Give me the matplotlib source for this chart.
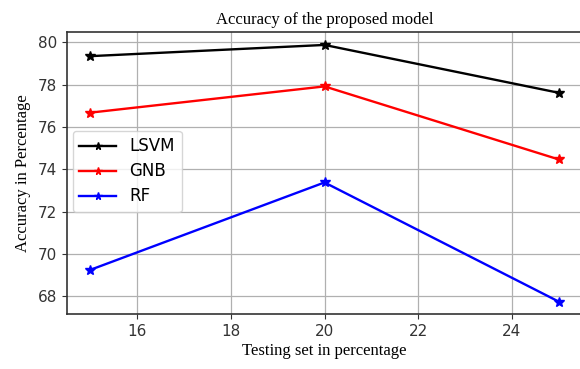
import matplotlib
matplotlib.use("Agg")
import matplotlib.pyplot as plt

# data
testSize = [15, 20, 25]
lsvm = [79.35, 79.88, 77.62]
gnb = [76.68, 77.92, 74.47]
rf = [69.25, 73.38, 67.75]

series = [("LSVM", lsvm, "black"), ("GNB", gnb, "red"), ("RF", rf, "blue")]

fig = plt.figure(figsize=(5.8, 3.69), dpi=100)
ax = fig.add_axes([0.1155, 0.148, 0.888, 0.765])

for name, values, color in series:
    ax.plot(testSize, values, marker="*", markersize=7, color=color, linewidth=1.7, label=name)

ax.grid(True, color="#b0b0b0", linewidth=0.9)
ax.set_xticks([16, 18, 20, 22, 24])
ax.set_yticks([68, 70, 72, 74, 76, 78, 80])
ax.tick_params(labelsize=11, colors="#333333")
for s in ax.spines.values():
    s.set_linewidth(1.2)
    s.set_color("#333333")

serif = ["Liberation Serif", "DejaVu Serif"]
ax.set_title("Accuracy of the proposed model", family=serif, fontsize=12, pad=6)
ax.set_xlabel("Testing set in percentage", family=serif, fontsize=12, labelpad=3)
ax.set_ylabel("Accuracy in Percentage", family=serif, fontsize=12, labelpad=5)

ax.legend(loc="upper left", bbox_to_anchor=(-0.005, 0.68), fontsize=12, handlelength=2.2,
          markerscale=0.8, labelspacing=0.42)

fig.savefig("out.png", dpi=100)
